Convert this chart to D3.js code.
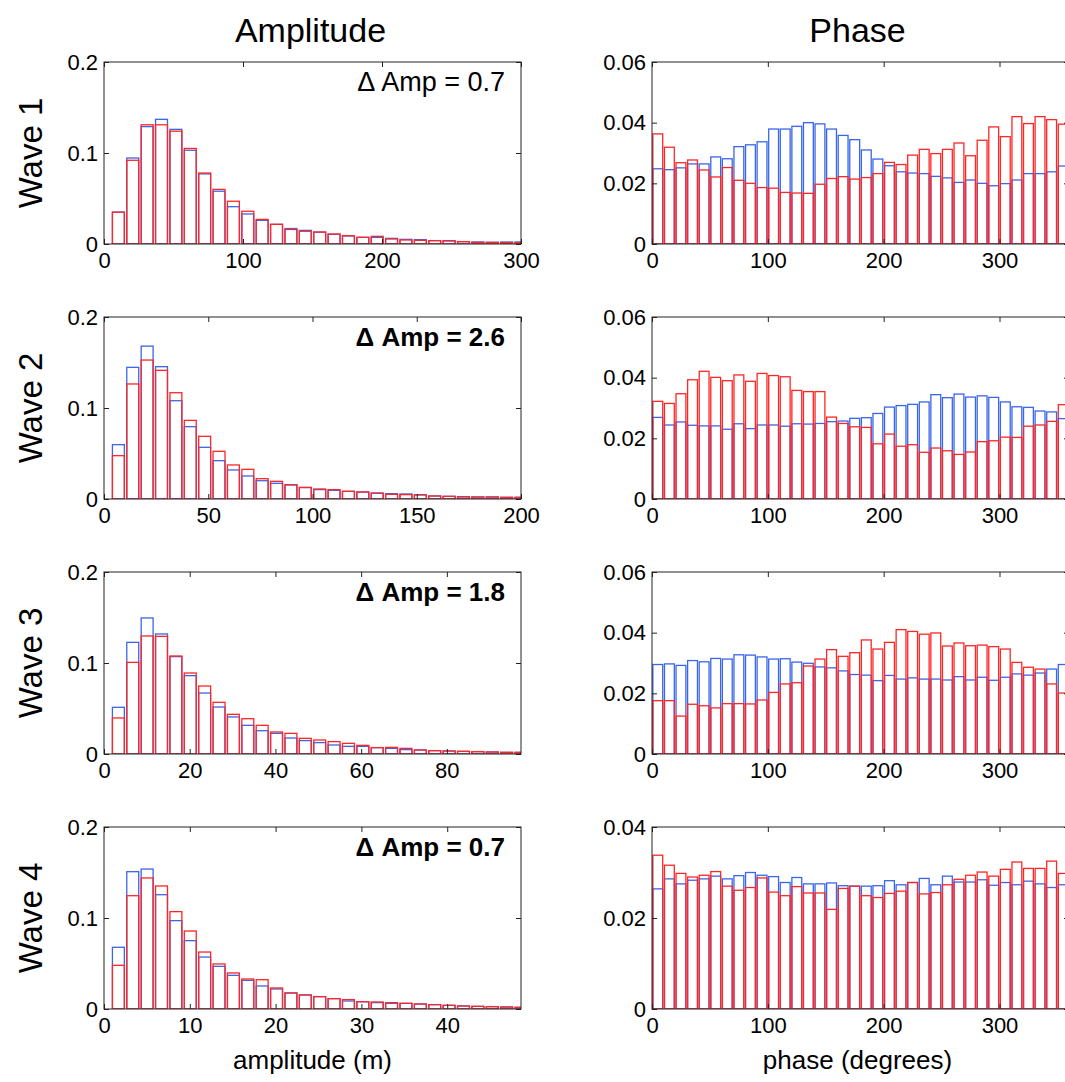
<!DOCTYPE html>
<meta charset="utf-8">
<style>
body { margin: 0; background: #fff; }
text { font-family: Arial, "Liberation Sans", sans-serif; fill: #000; }
.bar { fill: none; stroke-width: 1.3px; }
.blue { stroke: #3a66ea; }
.red { stroke: #ff2626; }
.box { fill: none; stroke: #222; stroke-width: 1px; }
.axis path { display: none; }
.axis line { stroke: #222; }
</style>
<body>
<script src="https://d3js.org/d3.v7.min.js"></script>
<script>

// row labels, titles and annotations
var waveNames = ["Wave 1", "Wave 2", "Wave 3", "Wave 4"];
var dAmpText = ["\u0394 Amp = 0.7", "\u0394 Amp = 2.6", "\u0394 Amp = 1.8", "\u0394 Amp = 0.7"];
var dAmpBold = [false, true, true, true];

// axis ranges and ticks
var ampXMax = [300, 200, 97.3, 48.6];
var ampXTicks = [[0, 100, 200, 300], [0, 50, 100, 150, 200], [0, 20, 40, 60, 80], [0, 10, 20, 30, 40]];
var ampYTicks = [0, 0.1, 0.2];
var phaseXTicks = [0, 100, 200, 300];
var phaseYMax = [0.06, 0.06, 0.06, 0.04];
var phaseYTicks = [[0, 0.02, 0.04, 0.06], [0, 0.02, 0.04, 0.06], [0, 0.02, 0.04, 0.06], [0, 0.02, 0.04]];
var ampBins = 29;      // bars per amplitude histogram
var phaseBinWidth = 10; // degrees

// amplitude histograms (blue = first series, red = second series)
var amp1Blue = [0.035, 0.0945, 0.129, 0.137, 0.126, 0.103, 0.077, 0.058, 0.041, 0.033, 0.026, 0.0216, 0.017, 0.015, 0.013, 0.0106, 0.0088, 0.0073, 0.0073, 0.0062, 0.0051, 0.0048, 0.0037, 0.0033, 0.0026, 0.0022, 0.0018, 0.0022, 0.0022];
var amp1Red  = [0.035, 0.092, 0.131, 0.131, 0.124, 0.105, 0.078, 0.060, 0.047, 0.036, 0.027, 0.0216, 0.016, 0.014, 0.0132, 0.011, 0.0092, 0.0073, 0.0084, 0.0055, 0.0044, 0.004, 0.0037, 0.0037, 0.0026, 0.0018, 0.0018, 0.0015, 0.0015];
var amp2Blue = [0.0597, 0.1447, 0.168, 0.1454, 0.108, 0.0795, 0.0568, 0.0421, 0.0319, 0.0253, 0.0201, 0.0172, 0.0158, 0.0125, 0.0103, 0.0095, 0.0084, 0.0077, 0.0066, 0.0059, 0.0055, 0.0048, 0.0033, 0.0029, 0.0026, 0.0022, 0.0022, 0.0018, 0.0018];
var amp2Red  = [0.0476, 0.1264, 0.1527, 0.1414, 0.1168, 0.0864, 0.0689, 0.0524, 0.0374, 0.0326, 0.0223, 0.0194, 0.0154, 0.0128, 0.011, 0.0103, 0.0084, 0.0077, 0.0062, 0.0051, 0.0048, 0.0044, 0.0033, 0.0029, 0.0022, 0.0022, 0.0022, 0.0018, 0.0018];
var amp3Blue = [0.0513, 0.1227, 0.1495, 0.1319, 0.107, 0.0861, 0.067, 0.0516, 0.0407, 0.0315, 0.0256, 0.0227, 0.0176, 0.0147, 0.0125, 0.0099, 0.0084, 0.0084, 0.007, 0.0062, 0.0048, 0.0044, 0.0037, 0.0033, 0.0029, 0.0026, 0.0022, 0.0018, 0.0018];
var amp3Red  = [0.0396, 0.1007, 0.1297, 0.1293, 0.1077, 0.089, 0.0747, 0.0568, 0.0436, 0.0388, 0.0315, 0.0242, 0.0227, 0.0172, 0.0154, 0.0136, 0.0117, 0.0095, 0.007, 0.0073, 0.0062, 0.0044, 0.0037, 0.0033, 0.0029, 0.0026, 0.0022, 0.0018, 0.0018];
var amp4Blue = [0.0678, 0.1509, 0.1538, 0.1256, 0.0971, 0.0751, 0.0571, 0.0469, 0.037, 0.0315, 0.0253, 0.022, 0.0176, 0.0154, 0.0136, 0.0114, 0.0088, 0.008, 0.007, 0.0062, 0.0062, 0.0055, 0.0048, 0.004, 0.0033, 0.0029, 0.0026, 0.0022, 0.0018];
var amp4Red  = [0.048, 0.1245, 0.144, 0.1352, 0.107, 0.0857, 0.0626, 0.0495, 0.0396, 0.033, 0.0322, 0.0231, 0.0176, 0.0154, 0.0136, 0.0114, 0.0103, 0.008, 0.0077, 0.007, 0.0062, 0.0055, 0.0048, 0.004, 0.0033, 0.0029, 0.0026, 0.0022, 0.0018];

// phase histograms, 10 degree bins
var phase1Blue = [0.0248, 0.0245, 0.0251, 0.0264, 0.0264, 0.0287, 0.0281, 0.0321, 0.0327, 0.0337, 0.0379, 0.0379, 0.0388, 0.040, 0.0396, 0.0379, 0.0358, 0.0344, 0.031, 0.028, 0.0258, 0.0238, 0.0234, 0.0232, 0.0223, 0.0218, 0.0203, 0.0211, 0.020, 0.0192, 0.0199, 0.0211, 0.0232, 0.0232, 0.0238, 0.0257];
var phase1Red  = [0.0363, 0.0319, 0.0268, 0.0277, 0.0244, 0.0221, 0.0252, 0.021, 0.020, 0.0186, 0.0184, 0.017, 0.0168, 0.0167, 0.0197, 0.0216, 0.0222, 0.0214, 0.0219, 0.0232, 0.0269, 0.0262, 0.0293, 0.0312, 0.0298, 0.0312, 0.0333, 0.0291, 0.0342, 0.0386, 0.0354, 0.042, 0.0397, 0.042, 0.041, 0.0395];
var phase2Blue = [0.0269, 0.0244, 0.0254, 0.0243, 0.0241, 0.0241, 0.023, 0.0248, 0.0232, 0.0244, 0.0244, 0.024, 0.0248, 0.0247, 0.0249, 0.0255, 0.0257, 0.0266, 0.0268, 0.0282, 0.0303, 0.0308, 0.0312, 0.032, 0.0344, 0.0334, 0.0346, 0.0336, 0.034, 0.0335, 0.032, 0.0304, 0.0302, 0.029, 0.0287, 0.0265];
var phase2Red  = [0.0322, 0.0315, 0.0347, 0.0393, 0.0421, 0.0401, 0.039, 0.0409, 0.0388, 0.0414, 0.0407, 0.0403, 0.0358, 0.0354, 0.0354, 0.027, 0.0249, 0.0238, 0.0236, 0.0182, 0.0214, 0.0174, 0.0179, 0.0154, 0.0168, 0.0159, 0.0147, 0.0155, 0.0189, 0.0192, 0.0204, 0.0203, 0.024, 0.0244, 0.0256, 0.0311];
var phase3Blue = [0.0295, 0.0297, 0.0292, 0.0308, 0.0304, 0.0315, 0.0313, 0.0327, 0.0326, 0.032, 0.0313, 0.0314, 0.0303, 0.0299, 0.0287, 0.0284, 0.0274, 0.0262, 0.026, 0.0242, 0.0259, 0.0247, 0.0251, 0.0247, 0.0247, 0.0244, 0.0255, 0.0244, 0.0253, 0.0243, 0.0253, 0.0264, 0.026, 0.0267, 0.028, 0.0295];
var phase3Red  = [0.0176, 0.0176, 0.0125, 0.0164, 0.0159, 0.0152, 0.0166, 0.0166, 0.0165, 0.0178, 0.0203, 0.0231, 0.0235, 0.029, 0.0313, 0.0344, 0.0322, 0.0334, 0.0376, 0.0346, 0.0368, 0.041, 0.0404, 0.0395, 0.0399, 0.0356, 0.0366, 0.0357, 0.0359, 0.0354, 0.0346, 0.0302, 0.0286, 0.028, 0.0231, 0.0201];
var phase4Blue = [0.0264, 0.0286, 0.0275, 0.0283, 0.0286, 0.0292, 0.0286, 0.0293, 0.030, 0.0294, 0.0291, 0.0278, 0.0289, 0.0275, 0.0275, 0.0277, 0.0271, 0.027, 0.027, 0.0271, 0.0282, 0.0273, 0.0278, 0.0287, 0.0273, 0.0292, 0.0279, 0.0279, 0.0284, 0.0272, 0.0278, 0.0273, 0.0281, 0.0275, 0.0267, 0.0273];
var phase4Red  = [0.0338, 0.0316, 0.0298, 0.029, 0.0294, 0.0302, 0.027, 0.0261, 0.0267, 0.0288, 0.0257, 0.0249, 0.0269, 0.0255, 0.0255, 0.0219, 0.0265, 0.027, 0.0249, 0.0245, 0.0254, 0.0259, 0.0278, 0.0253, 0.0256, 0.0273, 0.0285, 0.0294, 0.0301, 0.0292, 0.0307, 0.0323, 0.0309, 0.0309, 0.0325, 0.0298];

var ampBlue = [amp1Blue, amp2Blue, amp3Blue, amp4Blue];
var ampRed = [amp1Red, amp2Red, amp3Red, amp4Red];
var phaseBlue = [phase1Blue, phase2Blue, phase3Blue, phase4Blue];
var phaseRed = [phase1Red, phase2Red, phase3Red, phase4Red];

// layout
var W = 1065, H = 1082;
var leftX = 104, rightX = 652, panelW = 417, panelH = 182;
var rowTop = [62, 317, 572, 827];

var svg = d3.select("body").append("svg")
    .attr("width", W)
    .attr("height", H);

// draws one histogram panel with blue and red outlined bars
function drawPanel(px, py, id, xMax, yMax, xTicks, yTicks, centers, bw, blue, red) {
  var x = d3.scaleLinear().domain([0, xMax]).range([0, panelW]);
  var y = d3.scaleLinear().domain([0, yMax]).range([panelH, 0]);

  var g = svg.append("g").attr("transform", "translate(" + px + "," + py + ")");

  g.append("clipPath").attr("id", id)
    .append("rect").attr("width", panelW).attr("height", panelH);

  var bars = g.append("g").attr("clip-path", "url(#" + id + ")");

  [[blue, "blue"], [red, "red"]].forEach(function(s) {
    bars.selectAll("rect." + s[1])
      .data(s[0])
      .enter().append("rect")
        .attr("class", "bar " + s[1])
        .attr("x", function(d, i) { return x(centers[i] - bw / 2); })
        .attr("width", function(d, i) { return x(centers[i] + bw / 2) - x(centers[i] - bw / 2); })
        .attr("y", function(d) { return y(d); })
        .attr("height", function(d) { return y(0) - y(d); });
  });

  var fmt = d3.format("~g");

  g.append("g").attr("class", "axis")
      .attr("transform", "translate(0," + panelH + ")")
      .call(d3.axisBottom(x).tickValues(xTicks).tickSize(-5).tickPadding(8).tickFormat(fmt))
      .attr("font-size", 22).attr("font-family", null);
  g.append("g").attr("class", "axis")
      .call(d3.axisTop(x).tickValues(xTicks).tickSize(-5).tickFormat(""));
  g.append("g").attr("class", "axis")
      .call(d3.axisLeft(y).tickValues(yTicks).tickSize(-5).tickPadding(6).tickFormat(fmt))
      .attr("font-size", 22).attr("font-family", null);
  g.append("g").attr("class", "axis")
      .attr("transform", "translate(" + panelW + ",0)")
      .call(d3.axisRight(y).tickValues(yTicks).tickSize(-5).tickFormat(""));

  g.append("rect").attr("class", "box")
      .attr("width", panelW).attr("height", panelH);

  return g;
}

var phaseCenters = d3.range(phaseBinWidth / 2, 360, phaseBinWidth);

rowTop.forEach(function(top, r) {
  var bw = ampXMax[r] / ampBins;
  var ampCenters = d3.range(1, ampBins + 1).map(function(k) { return k * bw; });

  var ga = drawPanel(leftX, top, "clipA" + r, ampXMax[r], 0.2, ampXTicks[r], ampYTicks,
                     ampCenters, bw * 0.83, ampBlue[r], ampRed[r]);
  drawPanel(rightX, top, "clipP" + r, 360, phaseYMax[r], phaseXTicks, phaseYTicks[r],
            phaseCenters, phaseBinWidth * 0.85, phaseBlue[r], phaseRed[r]);

  ga.append("text")
    .attr("x", panelW - 16)
    .attr("y", 29)
    .attr("text-anchor", "end")
    .style("font-size", dAmpBold[r] ? "26px" : "27px")
    .style("font-weight", dAmpBold[r] ? "bold" : "normal")
    .text(dAmpText[r]);

  svg.append("text")
    .attr("transform", "translate(42," + (top + panelH / 2) + ") rotate(-90)")
    .attr("text-anchor", "middle")
    .style("font-size", "33px")
    .text(waveNames[r]);
});

// column titles
svg.append("text")
  .attr("x", leftX + panelW / 2 - 2).attr("y", 42)
  .attr("text-anchor", "middle")
  .style("font-size", "34px")
  .text("Amplitude");
svg.append("text")
  .attr("x", rightX + panelW / 2 - 3).attr("y", 42)
  .attr("text-anchor", "middle")
  .style("font-size", "34px")
  .text("Phase");

// x axis labels
svg.append("text")
  .attr("x", leftX + panelW / 2).attr("y", 1069)
  .attr("text-anchor", "middle")
  .style("font-size", "26px")
  .text("amplitude (m)");
svg.append("text")
  .attr("x", rightX + panelW / 2 - 3).attr("y", 1069)
  .attr("text-anchor", "middle")
  .style("font-size", "26px")
  .text("phase (degrees)");

</script>
</body>
